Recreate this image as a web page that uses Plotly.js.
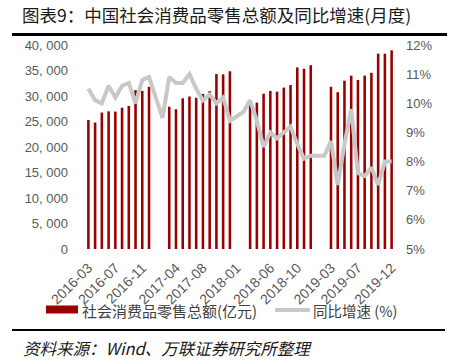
<!DOCTYPE html>
<html>
<head>
<meta charset="utf-8">
<script src="https://cdn.plot.ly/plotly-3.0.1.min.js"></script>
<style>html,body{margin:0;padding:0;background:#fff;}#chart{width:449px;height:364px;}</style>
</head>
<body>
<div id="chart"></div>
<script>
var months = [
  "2016-03","2016-04","2016-05","2016-06","2016-07","2016-08","2016-09","2016-10","2016-11","2016-12",
  "2017-01","2017-02","2017-03","2017-04","2017-05","2017-06","2017-07","2017-08","2017-09","2017-10","2017-11","2017-12",
  "2018-01","2018-02","2018-03","2018-04","2018-05","2018-06","2018-07","2018-08","2018-09","2018-10","2018-11","2018-12",
  "2019-01","2019-02","2019-03","2019-04","2019-05","2019-06","2019-07","2019-08","2019-09","2019-10","2019-11","2019-12"
];
var retailSales = [
  25300,24800,26750,27000,26950,27700,28050,31150,31000,31800,
  null,null,27900,27400,29550,29900,29650,30400,30950,34300,34250,34850,
  null,null,29200,28700,30450,31000,30850,31650,32150,35600,35350,36050,
  null,null,31800,30750,33000,34000,33150,34000,34550,38300,38300,38950
];
var yoyGrowth = [
  10.5,10.1,10.0,10.6,10.2,10.6,10.7,10.0,10.8,10.9,
  null,9.5,10.9,10.7,10.7,11.0,10.5,10.1,10.3,10.0,10.2,9.4,
  null,9.7,10.1,9.4,8.5,9.0,8.8,9.0,9.2,8.6,8.1,8.2,
  null,8.2,8.7,7.2,8.6,9.8,7.6,7.5,7.8,7.2,8.0,8.0
];
var xTickLabels = ["2016-03","2016-07","2016-11","2017-04","2017-08","2018-01","2018-06","2018-10","2019-03","2019-07","2019-12"];
var yTickVals = [0,5000,10000,15000,20000,25000,30000,35000,40000];
var yTickText = ["0","5, 000","10, 000","15, 000","20, 000","25, 000","30, 000","35, 000","40, 000"];
var y2TickVals = [5,6,7,8,9,10,11,12];
var y2TickText = ["5%","6%","7%","8%","9%","10%","11%","12%"];
var seriesNames = ["社会消费品零售总额(亿元)","同比增速 (%)"];
var titleText = "图表9：中国社会消费品零售总额及同比增速(月度)";
var sourceText = "资料来源：Wind、万联证券研究所整理";

var W = 449, H = 364, ML = 85, MR = 54, MT = 45, MB = 115;
function px(x){ return (x - ML) / (W - ML - MR); }
function py(y){ return (H - MB - y) / (H - MT - MB); }

var cjk = "'Noto Sans CJK SC', 'Noto Sans', sans-serif";
var tickFont = {family: "'Liberation Sans', Arial, sans-serif", size: 13, color: "#595959"};

var traces = [
  {type: "bar", x: months, y: retailSales, name: seriesNames[0],
   marker: {color: "#990000", line: {width: 0}}, showlegend: false, hoverinfo: "skip"},
  {type: "scatter", mode: "lines", x: months, y: yoyGrowth, yaxis: "y2", name: seriesNames[1],
   connectgaps: true, line: {color: "#c8c8c8", width: 4}, showlegend: false, hoverinfo: "skip"}
];

var layout = {
  width: W, height: H,
  margin: {l: ML, r: MR, t: MT, b: MB, pad: 0},
  paper_bgcolor: "#ffffff", plot_bgcolor: "#ffffff",
  bargap: 0.62,
  showlegend: false,
  xaxis: {type: "category", range: [-0.5, 45.5], tickmode: "array", tickvals: xTickLabels,
          ticktext: xTickLabels, tickangle: -45, showgrid: false, showline: false,
          zeroline: false, ticks: "", ticklabelstandoff: 7,
          tickfont: {family: tickFont.family, size: 14, color: "#595959"}},
  yaxis: {range: [0, 40000], tickmode: "array", tickvals: yTickVals, ticktext: yTickText,
          showgrid: false, zeroline: false, showline: false, ticks: "", ticklabelstandoff: 16,
          tickfont: tickFont},
  yaxis2: {overlaying: "y", side: "right", range: [5, 12], tickmode: "array",
           tickvals: y2TickVals, ticktext: y2TickText, showgrid: false, zeroline: false,
           showline: false, ticks: "", ticklabelstandoff: 10, tickfont: tickFont},
  shapes: [
    {type: "line", xref: "paper", yref: "paper", x0: px(12), x1: px(447), y0: py(34.5), y1: py(34.5),
     line: {color: "#000000", width: 3}},
    {type: "line", xref: "paper", yref: "paper", x0: px(12), x1: px(445), y0: py(330), y1: py(330),
     line: {color: "#000000", width: 2}},
    {type: "rect", xref: "paper", yref: "paper", x0: px(46), x1: px(78), y0: py(313.5), y1: py(305.5),
     fillcolor: "#990000", line: {width: 0}},
    {type: "line", xref: "paper", yref: "paper", x0: px(275), x1: px(310), y0: py(310), y1: py(310),
     line: {color: "#c8c8c8", width: 4}}
  ],
  annotations: [
    {xref: "paper", yref: "paper", x: px(20), y: py(14.5), xanchor: "left", yanchor: "middle",
     text: titleText, showarrow: false, font: {family: cjk, size: 17.5, color: "#1a1a1a"}},
    {xref: "paper", yref: "paper", x: px(80), y: py(310), xanchor: "left", yanchor: "middle",
     text: seriesNames[0], showarrow: false, font: {family: cjk, size: 15, color: "#404040"}},
    {xref: "paper", yref: "paper", x: px(311), y: py(310), xanchor: "left", yanchor: "middle",
     text: seriesNames[1], showarrow: false, font: {family: cjk, size: 14.5, color: "#404040"}},
    {xref: "paper", yref: "paper", x: px(21), y: py(348), xanchor: "left", yanchor: "middle",
     text: sourceText, showarrow: false,
     font: {family: cjk, size: 16.5, color: "#1a1a1a", style: "italic"}}
  ]
};

Plotly.newPlot("chart", traces, layout, {displayModeBar: false, staticPlot: true});
</script>
</body>
</html>
